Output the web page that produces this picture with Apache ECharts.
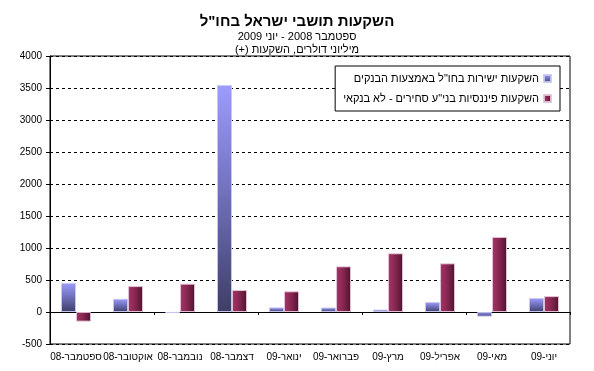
<!DOCTYPE html>
<html>
<head>
<meta charset="utf-8">
<script src="https://cdn.jsdelivr.net/npm/echarts@6/dist/echarts.min.js"></script>
<style>html,body{margin:0;padding:0;background:#fff}#c{width:594px;height:371px}</style>
</head>
<body>
<div id="c"></div>
<script>
const categories = ['ספטמבר-08','אוקטובר-08','נובמבר-08','דצמבר-08','ינואר-09','פברואר-09','מרץ-09','אפריל-09','מאי-09','יוני-09'];
const seriesNames = ['השקעות ישירות בחו"ל באמצעות הבנקים', 'השקעות פיננסיות בני"ע סחירים - לא בנקאי'];
const banks = [455, 207, -15, 3545, 72, 70, 38, 155, -72, 218];
const nonBank = [-150, 405, 442, 343, 323, 713, 917, 760, 1172, 248];
const yTicks = [-500, 0, 500, 1000, 1500, 2000, 2500, 3000, 3500, 4000];
const titleText = 'השקעות תושבי ישראל בחו"ל';
const subText = 'ספטמבר 2008 - יוני 2009\n' + 'מיליוני דולרים, השקעות (+)\u200F';

const font = 'Arial, "Liberation Sans", sans-serif';
const blueGrad = new echarts.graphic.LinearGradient(0, 0, 0, 1, [
  {offset: 0, color: '#9c9cff'}, {offset: 0.5, color: '#6e6eb8'}, {offset: 1, color: '#3e3e66'}]);
const redGrad = new echarts.graphic.LinearGradient(0, 0, 1, 0, [
  {offset: 0, color: '#a3366a'}, {offset: 0.5, color: '#86264f'}, {offset: 1, color: '#4a1430'}]);

const chart = echarts.init(document.getElementById('c'), null, {renderer: 'canvas'});
chart.setOption({
  animation: false,
  backgroundColor: '#fff',
  title: [{
    text: titleText, left: 'center', top: 9,
    textStyle: {fontFamily: font, fontSize: 15, fontWeight: 'bold', color: '#000'}
  }, {
    text: subText, left: 'center', top: 25,
    textStyle: {fontFamily: font, fontSize: 11, fontWeight: 'normal', color: '#000', lineHeight: 13}
  }],
  legend: {
    orient: 'vertical', right: 34, top: 66, align: 'right',
    padding: [7, 8, 7, 8], itemGap: 9, itemWidth: 7, itemHeight: 7,
    borderColor: '#000', borderWidth: 1, backgroundColor: '#fff',
    textStyle: {fontFamily: font, fontSize: 11, color: '#000', padding: [0, 0, 0, 0]},
    data: [{name: seriesNames[0], icon: 'rect'}, {name: seriesNames[1], icon: 'rect'}]
  },
  grid: {left: 50, right: 24, top: 56, bottom: 27, show: true, borderColor: '#000', borderWidth: 1, containLabel: false},
  xAxis: [{
    type: 'category', data: categories, position: 'bottom',
    axisLine: {onZero: true, lineStyle: {color: '#000', width: 1}},
    axisTick: {show: true, inside: false, length: 3, lineStyle: {color: '#000'}},
    axisLabel: {show: false}, splitLine: {show: false}
  }, {
    type: 'category', data: categories, position: 'bottom', offset: 0,
    axisLine: {show: false, onZero: false}, axisTick: {show: false},
    axisLabel: {show: true, fontFamily: font, fontSize: 10, color: '#000', margin: 8, interval: 0}
  }],
  yAxis: {
    type: 'value', min: yTicks[0], max: yTicks[yTicks.length - 1], interval: 500,
    axisLine: {show: true, lineStyle: {color: '#000'}},
    axisTick: {show: true, length: 4, lineStyle: {color: '#000'}},
    axisLabel: {fontFamily: font, fontSize: 10, color: '#000', margin: 8, formatter: v => String(v)},
    splitLine: {show: true, lineStyle: {color: '#000', type: [3, 3], width: 1}}
  },
  series: [{
    name: seriesNames[0], type: 'bar', xAxisIndex: 0, data: banks,
    barWidth: 15, barGap: '0%',
    itemStyle: {color: blueGrad, borderColor: 'rgba(200,200,240,0.9)', borderWidth: 1}
  }, {
    name: seriesNames[1], type: 'bar', xAxisIndex: 0, data: nonBank,
    barWidth: 15, barGap: '0%',
    itemStyle: {color: redGrad, borderColor: 'rgba(230,195,215,0.9)', borderWidth: 1}
  }]
});
</script>
</body>
</html>
